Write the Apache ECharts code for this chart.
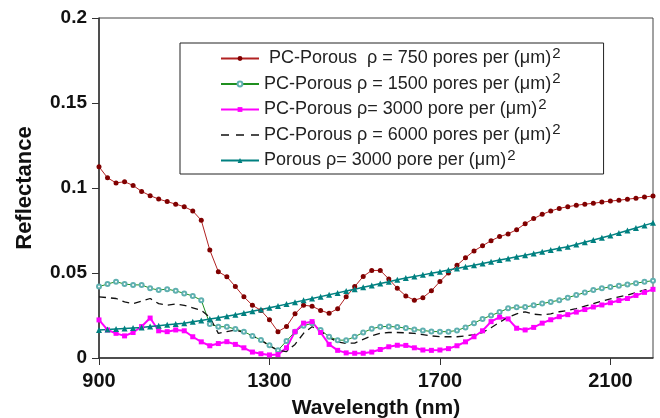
<!DOCTYPE html>
<html>
<head>
<meta charset="utf-8">
<title>Reflectance</title>
<script src="https://cdn.jsdelivr.net/npm/echarts@6/dist/echarts.min.js"></script>
<style>
  html, body { margin: 0; padding: 0; background: #fff; }
  #main { width: 660px; height: 418px; }
</style>
</head>
<body>
<div id="main"></div>
<script>
// wavelength (nm), one reading every 20 nm
var wavelength = [900,920,940,960,980,1000,1020,1040,1060,1080,1100,1120,1140,1160,1180,1200,1220,1240,1260,1280,1300,1320,1340,1360,1380,1400,1420,1440,1460,1480,1500,1520,1540,1560,1580,1600,1620,1640,1660,1680,1700,1720,1740,1760,1780,1800,1820,1840,1860,1880,1900,1920,1940,1960,1980,2000,2020,2040,2060,2080,2100,2120,2140,2160,2180,2200];

var pc750 = [0.1125,0.106,0.103,0.1037,0.1015,0.098,0.0955,0.0935,0.092,0.0905,0.089,0.0865,0.081,0.0635,0.0508,0.0478,0.042,0.036,0.031,0.028,0.0225,0.0155,0.0185,0.026,0.031,0.0305,0.028,0.0263,0.029,0.036,0.042,0.048,0.0515,0.0515,0.0465,0.041,0.0365,0.034,0.0355,0.0395,0.045,0.050,0.0545,0.059,0.063,0.066,0.069,0.0714,0.073,0.0755,0.079,0.082,0.0845,0.0865,0.088,0.089,0.0898,0.0905,0.091,0.0917,0.0923,0.0928,0.0934,0.094,0.0947,0.0953];

var pc1500 = [0.042,0.0435,0.0449,0.0435,0.043,0.043,0.041,0.040,0.0405,0.0395,0.038,0.0365,0.034,0.020,0.0184,0.0184,0.017,0.0155,0.013,0.0106,0.0075,0.0045,0.010,0.0155,0.019,0.0204,0.0165,0.0125,0.0105,0.0105,0.0125,0.015,0.0172,0.0184,0.0186,0.0182,0.0176,0.0168,0.0162,0.0156,0.0155,0.0155,0.0162,0.018,0.0205,0.023,0.025,0.027,0.0292,0.0298,0.030,0.031,0.032,0.033,0.034,0.0355,0.037,0.0385,0.040,0.041,0.0418,0.0425,0.0432,0.044,0.0448,0.0455];

var pc3000 = [0.0224,0.0165,0.0145,0.013,0.015,0.0185,0.0235,0.016,0.0155,0.0165,0.016,0.0125,0.0095,0.0072,0.0085,0.0096,0.008,0.006,0.0035,0.0025,0.0018,0.002,0.006,0.0155,0.0205,0.0214,0.015,0.008,0.0045,0.003,0.0028,0.0028,0.0035,0.005,0.0066,0.0075,0.0074,0.006,0.0047,0.0045,0.0047,0.0055,0.0072,0.0095,0.0125,0.016,0.0214,0.024,0.023,0.0175,0.0165,0.018,0.0205,0.0225,0.0243,0.0255,0.027,0.0285,0.030,0.0312,0.0325,0.0338,0.035,0.0368,0.0386,0.0404];

var pc6000 = [0.036,0.0355,0.035,0.033,0.032,0.0335,0.035,0.032,0.031,0.0318,0.031,0.0295,0.028,0.024,0.0145,0.0155,0.0165,0.015,0.013,0.0105,0.0072,0.0045,0.0038,0.008,0.0145,0.0184,0.016,0.012,0.0095,0.0086,0.0088,0.011,0.013,0.0145,0.015,0.015,0.0148,0.0145,0.0138,0.013,0.0125,0.0125,0.0125,0.013,0.0138,0.015,0.0178,0.021,0.024,0.026,0.0272,0.0258,0.0253,0.026,0.0272,0.028,0.029,0.0305,0.032,0.0335,0.0348,0.036,0.037,0.0385,0.040,0.041];

var porous3000 = [0.0165,0.0168,0.0171,0.0174,0.0177,0.018,0.0185,0.019,0.0195,0.020,0.0205,0.0213,0.0221,0.0229,0.0237,0.0245,0.0255,0.0265,0.0275,0.0285,0.0295,0.0306,0.0317,0.0328,0.0339,0.035,0.0361,0.0372,0.0383,0.0394,0.0405,0.0416,0.0427,0.0438,0.0449,0.046,0.047,0.0479,0.0489,0.0498,0.0508,0.0518,0.0527,0.0537,0.0546,0.0556,0.0566,0.0576,0.0585,0.0595,0.0605,0.0615,0.0625,0.0635,0.0645,0.0655,0.0668,0.0681,0.0694,0.0707,0.072,0.0735,0.075,0.0765,0.078,0.0795];

var seriesNames = [
  ' PC-Porous  \u03c1 = 750 pores per (\u03bcm)',
  'PC-Porous \u03c1 = 1500 pores per (\u03bcm)',
  'PC-Porous \u03c1= 3000 pore per (\u03bcm)',
  'PC-Porous \u03c1 = 6000 pores per (\u03bcm)',
  'Porous \u03c1= 3000 pore per (\u03bcm)'
];

function pairs(vals) {
  return vals.map(function (v, i) { return [wavelength[i], v]; });
}

var myChart = echarts.init(document.getElementById('main'), null, {renderer: 'canvas'});

var font = 'Liberation Sans, Arial, sans-serif';

var option = {
  animation: false,
  backgroundColor: '#fff',
  textStyle: {fontFamily: font},
  grid: {
    left: 99, right: 7, top: 18, bottom: 60,
    outerBoundsMode: 'none',
    show: true, borderColor: '#444', borderWidth: 1
  },
  legend: {
    orient: 'vertical',
    left: 180, top: 43,
    padding: [3, 43, 1, 40],
    itemGap: 0.5,
    itemWidth: 38, itemHeight: 6,
    backgroundColor: '#fff',
    borderColor: '#222', borderWidth: 1,
    borderRadius: 0,
    data: [
      {name: seriesNames[0]},
      {name: seriesNames[1]},
      {name: seriesNames[2]},
      // dashed line only, no marker
      {name: seriesNames[3], icon: 'path://M0,0h8v1.5h-8z M15,0h8v1.5h-8z M30,0h8v1.5h-8z'},
      {name: seriesNames[4]}
    ],
    // superscript 2: bottom padding lifts the small digit
    formatter: function (name) { return '{t|' + name + '}{s|2}'; },
    textStyle: {
      fontFamily: font,
      color: '#222',
      rich: {
        t: {fontSize: 18, lineHeight: 18, fontFamily: font, color: '#222'},
        s: {fontSize: 15, lineHeight: 8, fontFamily: font, color: '#222', padding: [0, 0, 10, 1]}
      }
    }
  },
  xAxis: {
    type: 'value',
    min: 900, max: 2200, interval: 400,
    name: 'Wavelength (nm)',
    nameLocation: 'middle',
    nameGap: 40,
    nameTextStyle: {fontFamily: font, fontSize: 21, fontWeight: 'bold', color: '#111'},
    axisLine: {onZero: false, lineStyle: {color: '#333', width: 1.5}},
    axisTick: {show: true, inside: false, length: 7, lineStyle: {color: '#333'}},
    axisLabel: {
      fontFamily: font, fontSize: 20, fontWeight: 'bold', color: '#111', margin: 13,
      showMaxLabel: false,
      formatter: function (v) { return String(v); }
    },
    splitLine: {show: false}
  },
  yAxis: {
    type: 'value',
    min: 0, max: 0.2, interval: 0.05,
    name: 'Reflectance',
    nameLocation: 'middle',
    nameGap: 63,
    nameTextStyle: {fontFamily: font, fontSize: 22, fontWeight: 'bold', color: '#111'},
    axisLine: {show: true, lineStyle: {color: '#333', width: 1.5}},
    axisTick: {show: true, inside: false, length: 7, lineStyle: {color: '#333'}},
    axisLabel: {fontFamily: font, fontSize: 19, fontWeight: 'bold', color: '#111', margin: 12},
    splitLine: {show: false}
  },
  series: [
    {
      name: seriesNames[0], type: 'line',
      data: pairs(pc750),
      symbol: 'circle', symbolSize: 5,
      itemStyle: {color: '#800000'},
      lineStyle: {color: '#b22222', width: 1}
    },
    {
      name: seriesNames[1], type: 'line',
      data: pairs(pc1500),
      symbol: 'emptyCircle', symbolSize: 4,
      itemStyle: {color: '#5fb0b0', borderWidth: 1},
      lineStyle: {color: '#1f8f1f', width: 1}
    },
    {
      name: seriesNames[2], type: 'line',
      data: pairs(pc3000),
      symbol: 'rect', symbolSize: 5,
      itemStyle: {color: '#ff00ff'},
      lineStyle: {color: '#ff00ff', width: 2}
    },
    {
      name: seriesNames[3], type: 'line',
      data: pairs(pc6000),
      showSymbol: false, symbol: 'none',
      itemStyle: {color: '#111'},
      lineStyle: {color: '#111', width: 1.3, type: [7, 5]}
    },
    {
      name: seriesNames[4], type: 'line',
      data: pairs(porous3000),
      symbol: 'triangle', symbolSize: 6,
      itemStyle: {color: '#008080'},
      lineStyle: {color: '#008080', width: 1.5}
    }
  ]
};

myChart.setOption(option);
</script>
</body>
</html>
